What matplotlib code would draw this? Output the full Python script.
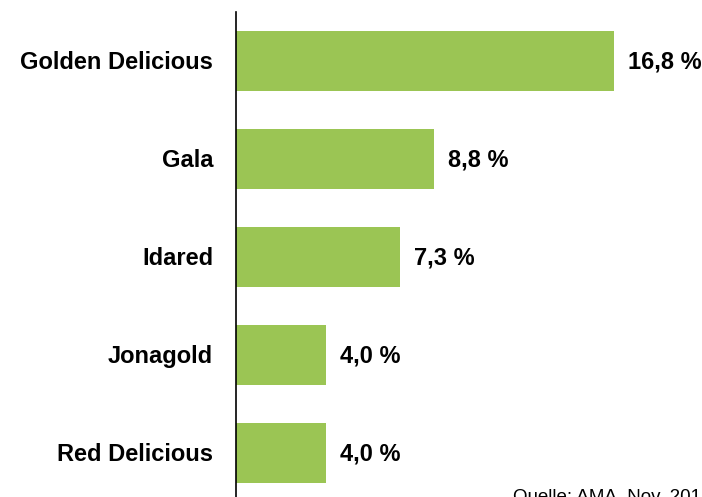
import matplotlib
matplotlib.use("Agg")
import matplotlib.pyplot as plt
import matplotlib.transforms as mtransforms

categories = ["Golden Delicious", "Gala", "Idared", "Jonagold", "Red Delicious"]
values = [16.8, 8.8, 7.3, 4.0, 4.0]
labels = ["16,8 %", "8,8 %", "7,3 %", "4,0 %", "4,0 %"]
source = "Quelle: AMA, Nov. 2015"

plt.rcParams['font.family'] = ['Liberation Sans', 'DejaVu Sans']

W, H = 702, 497
fig = plt.figure(figsize=(W/100, H/100), dpi=100)
ax = fig.add_axes([236/W, 0, (W-236)/W, (H-12)/H])

ypos = list(range(len(categories)))
ax.barh(ypos, values, height=0.615, color="#9bc554", left=0)
ax.set_xlim(0, (W-236)/22.5)
ax.set_ylim(4.449, -0.5)

for y, v, lab in zip(ypos, values, labels):
    ax.text(v + 0.62, y + 0.01, lab, va='center', ha='left', fontsize=17, fontweight='bold', color='black')

ax.set_yticks(ypos)
ax.set_yticklabels(categories, fontsize=17, fontweight='bold', va='center')
ax.tick_params(axis='y', length=0, pad=16.5)
shift = mtransforms.ScaledTranslation(0, -2/100, fig.dpi_scale_trans)
for t in ax.get_yticklabels():
    t.set_transform(t.get_transform() + shift)
ax.set_xticks([])
for s in ['top', 'right', 'bottom']:
    ax.spines[s].set_visible(False)
ax.spines['left'].set_linewidth(1.2)
ax.spines['left'].set_color('black')

fig.text(513/W, (H-489)/H, source, ha='left', va='top', fontsize=13.5, color='black')

fig.savefig("out.png", dpi=100)
